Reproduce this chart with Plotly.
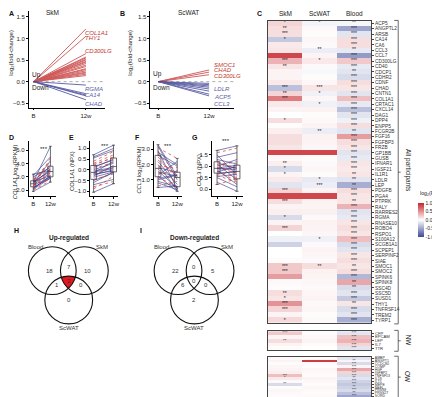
import numpy as np
import plotly.graph_objects as go

W, H = 440, 397
FONT = "Liberation Sans, Arial, sans-serif"
NAVY = "#2e3182"
RED = "#cf3b36"
BLUE_LBL = "#5b5ea6"
RED_LBL = "#c0392b"

# ---------------- data ----------------
time_labels = ["B", "12w"]

# A / B : log2 fold-change at 12 weeks (significant genes)
skm_up = [1.22, 1.05, 0.65, 0.57, 0.55, 0.52, 0.50, 0.47, 0.45, 0.42, 0.38, 0.35, 0.30, 0.28, 0.25, 0.22, 0.20, 0.17, 0.14]
skm_down = [-0.08, -0.28, -0.31, -0.33, -0.42]
skm_label_up = ["COL1A1", "THY1", "CD300LG"]
skm_label_down = ["RGMA", "CA14", "CHAD"]
scwat_up = [0.27, 0.22, 0.16]
scwat_down = [-0.04, -0.07, -0.10, -0.13, -0.17, -0.22, -0.29, -0.33]
scwat_label_up = ["SMOC1", "CHAD", "CD300LG"]
scwat_label_down = ["LDLR", "ACP5", "CCL3"]

# D-G : paired subject values (B, 12w); group: OW (solid navy) / NW (dotted red)
group = ["OW", "NW", "OW", "OW", "NW", "OW", "OW", "NW", "OW", "OW", "NW", "OW", "OW",
         "NW", "OW", "OW", "NW", "OW", "NW", "OW", "OW", "NW", "OW", "OW", "NW", "OW"]
col1a1_rpkm_b = [2.6, 2.3, 2.1, 2.5, 2.9, 2.4, 2.2, 2.0, 2.7, 3.1, 2.45, 2.35, 1.9, 2.8, 2.55, 3.0, 2.25, 2.65, 2.4, 2.15, 2.5, 2.3, 3.2, 2.05, 2.75, 2.6]
col1a1_rpkm_w = [5.3, 4.4, 3.1, 3.6, 4.1, 3.3, 2.9, 2.7, 3.8, 4.5, 3.4, 3.0, 2.6, 3.9, 3.5, 3.7, 3.2, 3.4, 2.8, 3.0, 4.2, 3.3, 3.5, 2.9, 3.6, 3.1]
col1a1_npx_b = [-1.05, -0.9, -0.6, -0.3, -0.2, -0.15, 0.1, 0.3, 0.55, 0.7, -0.45, -0.1, 0.0, 0.2, -0.25, -0.7, 0.4, -0.35, 0.05, -0.5, 0.15, -0.8, 0.6, -0.05, 0.25, -0.2]
col1a1_npx_w = [-0.65, -0.3, -0.1, 0.2, 0.1, 0.4, 0.5, 0.7, 0.9, 1.15, -0.2, 0.05, 0.3, 0.6, 0.0, -0.45, 0.85, -0.1, 0.35, -0.15, 0.45, -0.55, 1.0, 0.1, 0.55, -0.05]
ccl3_rpkm_b = [3.3, 3.1, 2.9, 2.6, 2.3, 2.0, 1.8, 1.7, 1.5, 1.3, 1.2, 1.0, 0.8, 0.6, 0.5, 2.8, 2.5, 1.6, 1.4, 3.2, 2.2, 1.9, 1.1, 0.9, 2.7, 1.25]
ccl3_rpkm_w = [1.2, 2.4, 0.4, 1.9, 1.3, 0.3, 1.5, 0.8, 1.25, 2.2, 0.5, 1.3, 0.35, 0.9, 0.6, 2.0, 1.1, 0.45, 1.6, 1.0, 0.7, 1.8, 1.35, 0.55, 1.45, 0.25]
ccl3_npx_b = [1.7, 1.6, 1.5, 1.3, 1.2, 1.1, 1.0, 0.95, 0.9, 0.85, 0.8, 0.75, 0.7, 0.6, 0.5, 0.3, 0.2, 1.4, 1.05, 0.65, 0.88, 1.25, 0.55, 0.92, 0.78, 1.15]
ccl3_npx_w = [1.9, 1.8, 0.6, 1.1, 0.9, 0.4, 1.3, 0.7, 0.85, 0.2, 0.5, 1.0, 0.75, 0.3, 0.1, -0.1, 0.45, 1.6, 1.2, 0.8, 0.95, 0.55, 0.65, 1.05, 0.35, 0.9]

# C : heatmap of log2(FC)
tissues = ["SkM", "ScWAT", "Blood"]
genes_all = ["ACP5", "ANGPTL2", "ARSB", "CA14", "CA6", "CCL3", "CCL7", "CD300LG", "CD40", "CDCP1",
             "CDHR2", "CDNF", "CHAD", "CNTN1", "COL1A1", "CRTAC1", "CXCL14", "DAG1", "DPP4", "ENPP5",
             "FCGR2B", "FGF16", "FGFBP3", "FRZB", "GP1BB", "GUSB", "IFNAR1", "IGSF21", "IL1R1", "LDLR",
             "LEP", "PDGFB", "PGA4", "PTPRK", "RALY", "RARRES2", "RGMA", "RNASE10", "ROBO4", "RSPO1",
             "S100A12", "SCGB1A1", "SCPEP1", "SERPINF2", "SIAE", "SMOC1", "SMOC2", "SPINK6", "SPINK8", "SSC4D",
             "SSC5D", "SUSD1", "THY1", "TNFRSF14", "TREM2", "TYRP1"]
skm_fc = [0.20, 0.15, 0.15, -0.30, 0.10, 0.12, 0.85, 0.35, 0.12, 0.05,
          0.05, 0.10, -0.35, 0.20, 0.60, 0.10, 0.05, 0.00, 0.15, 0.02,
          0.08, 0.15, 0.15, 0.12, 0.85, 0.03, 0.08, -0.20, 0.05, 0.10,
          -0.15, 0.20, 0.85, 0.15, 0.05, 0.08, -0.20, 0.05, 0.20, 0.00,
          -0.08, -0.25, 0.00, 0.00, 0.02, 0.25, 0.25, 0.45, 0.03, 0.02,
          0.15, 0.12, 0.50, 0.20, 0.05, 0.18]
skm_sig = ["*", "**", "***", "*", "", "", "", "***", "**", "",
           "", "", "***", "**", "***", "", "", "", "*", "",
           "", "", "", "", "", "", "**", "*", "*", "",
           "", "***", "", "***", "", "", "*", "", "***", "",
           "", "", "", "", "", "***", "***", "", "", "",
           "**", "*", "***", "***", "", "*"]
scwat_fc = [-0.06, 0.03, 0.02, 0.04, 0.03, -0.10, 0.05, 0.10, 0.03, -0.04,
            0.02, 0.04, 0.12, -0.08, 0.04, -0.08, 0.06, 0.02, 0.03, 0.05,
            -0.10, 0.06, 0.05, 0.04, 0.85, 0.02, 0.03, 0.04, 0.02, -0.12,
            -0.10, 0.05, 0.85, 0.06, 0.05, 0.07, 0.03, 0.06, 0.05, 0.04,
            -0.08, 0.03, 0.05, 0.04, 0.03, 0.15, 0.06, 0.05, 0.04, 0.03,
            0.04, 0.05, 0.03, 0.04, 0.02, 0.03]
scwat_sig = ["*", "", "", "", "", "**", "", "*", "", "",
             "", "", "***", "*", "", "*", "", "", "", "",
             "**", "", "", "", "", "", "", "", "", "*",
             "***", "", "", "", "", "", "", "", "", "",
             "*", "", "", "", "", "**", "", "", "", "",
             "", "", "", "", "", ""]
blood_fc = [-0.05, -0.50, -0.15, 0.15, 0.15, -0.12, -0.55, 0.25, -0.12, -0.15,
            -0.20, 0.15, 0.12, -0.15, 0.30, -0.12, -0.35, -0.15, -0.08, 0.15,
            -0.15, 0.45, 0.15, 0.12, -0.15, -0.12, 0.12, 0.10, 0.12, -0.15,
            -0.45, 0.15, 0.12, 0.12, 0.35, -0.15, -0.12, 0.12, 0.15, 0.12,
            0.30, -0.20, -0.15, 0.12, 0.15, 0.12, 0.15, -0.40, 0.40, -0.20,
            -0.15, -0.30, 0.12, -0.20, -0.15, -0.45]
blood_sig = ["**", "***", "***", "***", "***", "**", "***", "***", "***", "**",
             "***", "***", "***", "***", "***", "***", "***", "***", "***", "***",
             "**", "***", "***", "***", "***", "***", "***", "***", "**", "**",
             "**", "***", "***", "**", "***", "***", "***", "***", "***", "***",
             "***", "***", "***", "***", "***", "**", "***", "***", "**", "**",
             "***", "***", "**", "***", "***", "***"]

genes_nw = ["CFP", "EPCAM", "LEP", "IL7", "TTR"]
skm_fc_nw = [0.25, 0.05, 0.15, 0.05, 0.02]
skm_sig_nw = ["***", "", "**", "", ""]
scwat_fc_nw = [0.02, 0.03, 0.05, 0.02, 0.00]
scwat_sig_nw = ["", "", "", "", ""]
blood_fc_nw = [-0.15, 0.30, 0.35, 0.20, -0.15]
blood_sig_nw = ["***", "***", "***", "***", "***"]

genes_ow = ["AMBP", "ANGPT1", "CCDC80", "COMP", "HGF", "IGFBP2", "TNFSF13", "IL18", "IL15", "MEPE",
            "NEFL", "PRSS8", "PRSS27", "SORD"]
skm_fc_ow = [0.03, 0.05, 0.02, 0.04, 0.05, 0.08, 0.30, 0.10, 0.03, -0.20, 0.02, 0.04, 0.03, 0.02]
skm_sig_ow = ["", "", "", "", "", "", "***", "*", "", "**", "", "", "", ""]
scwat_fc_ow = [0.02, 0.90, 0.03, 0.02, 0.04, 0.03, 0.02, 0.05, 0.03, 0.02, 0.04, 0.03, 0.02, 0.03]
scwat_sig_ow = [""] * 14
blood_fc_ow = [-0.15, 0.05, -0.20, 0.05, 0.40, 0.20, -0.20, -0.15, -0.25, -0.30, -0.25, -0.20, -0.35, -0.50]
blood_sig_ow = ["***", "**", "***", "***", "***", "***", "***", "**", "***", "***", "**", "***", "**", "***"]

# H / I : Venn counts (Blood only, SkM only, ScWAT only, Blood&SkM, Blood&ScWAT, SkM&ScWAT, all)
venn_sets = ["Blood", "SkM", "ScWAT"]
up_counts = [18, 10, 0, 7, 1, 0, 2]
down_counts = [22, 5, 2, 0, 6, 0, 0]


# ---------------- helpers ----------------
def px(x):
    return x / W


def py(y):
    return 1 - y / H


def fan_xy(vals):
    xs, ys = [], []
    for v in vals:
        xs += [0, 1, None]
        ys += [0, v, None]
    return xs, ys


def pair_xy(b, w, grp, g):
    xs, ys = [], []
    for bi, wi, gi in zip(b, w, grp):
        if gi == g:
            xs += [0, 1, None]
            ys += [bi, wi, None]
    return xs, ys


def ax(**kw):
    d = dict(showline=True, linecolor="black", linewidth=0.8, ticks="outside", ticklen=2,
             tickwidth=0.7, tickcolor="black", showgrid=False, zeroline=False,
             tickfont=dict(size=6, family=FONT, color="#222"))
    d.update(kw)
    return d


fig = go.Figure()
annotations = []
shapes = []


def note(x, y, text, size=6, color="#222", bold=False, angle=0, xanchor="center", yanchor="middle"):
    t = "<b>" + text + "</b>" if bold else text
    annotations.append(dict(x=px(x), y=py(y), xref="paper", yref="paper", text=t, showarrow=False,
                            font=dict(size=size, color=color, family=FONT), textangle=angle,
                            xanchor=xanchor, yanchor=yanchor))


# ---------------- A & B ----------------
for (up, down, xa, ya) in ((skm_up, skm_down, "x", "y"), (scwat_up, scwat_down, "x2", "y2")):
    xs, ys = fan_xy(up)
    fig.add_trace(go.Scatter(x=xs, y=ys, mode="lines", line=dict(color="#c94444", width=0.9),
                             opacity=0.9, xaxis=xa, yaxis=ya, hoverinfo="skip"))
    xs, ys = fan_xy(down)
    fig.add_trace(go.Scatter(x=xs, y=ys, mode="lines", line=dict(color="#464a9a", width=0.9),
                             opacity=0.9, xaxis=xa, yaxis=ya, hoverinfo="skip"))
    shapes.append(dict(type="line", xref=xa, yref=ya, x0=0, x1=1.5, y0=0, y1=0,
                       line=dict(color="#999", width=0.8, dash="dot"), layer="below"))

a_lab_y = [1.13, 1.01, 0.71, -0.16, -0.30, -0.51]
b_lab_y = [0.38, 0.26, 0.135, -0.16, -0.35, -0.51]
for i, g in enumerate(skm_label_up + skm_label_down):
    c = RED_LBL if i < 3 else BLUE_LBL
    annotations.append(dict(x=0.95, y=a_lab_y[i], xref="x", yref="y", text="<i>" + g + "</i>",
                            showarrow=False, xanchor="left", yanchor="middle",
                            font=dict(size=6, color=c, family=FONT)))
for i, g in enumerate(scwat_label_up + scwat_label_down):
    c = RED_LBL if i < 3 else BLUE_LBL
    annotations.append(dict(x=1.06, y=b_lab_y[i], xref="x2", yref="y2", text="<i>" + g + "</i>",
                            showarrow=False, xanchor="left", yanchor="middle",
                            font=dict(size=6, color=c, family=FONT)))

# ---------------- D - G ----------------
paired = [
    (col1a1_rpkm_b, col1a1_rpkm_w, "x3", "y3"),
    (col1a1_npx_b, col1a1_npx_w, "x4", "y4"),
    (ccl3_rpkm_b, ccl3_rpkm_w, "x5", "y5"),
    (ccl3_npx_b, ccl3_npx_w, "x6", "y6"),
]
for b, w, xa, ya in paired:
    xs, ys = pair_xy(b, w, group, "OW")
    fig.add_trace(go.Scatter(x=xs, y=ys, mode="lines", line=dict(color=NAVY, width=0.6),
                             xaxis=xa, yaxis=ya, hoverinfo="skip"))
    xs, ys = pair_xy(b, w, group, "NW")
    fig.add_trace(go.Scatter(x=xs, y=ys, mode="lines", line=dict(color=RED, width=0.7, dash="dot"),
                             xaxis=xa, yaxis=ya, hoverinfo="skip"))
    for pos, vals in ((0, b), (1, w)):
        fig.add_trace(go.Box(x=[pos] * len(vals), y=vals, width=0.3, boxpoints=False,
                             line=dict(color="#444", width=0.8), fillcolor="rgba(255,255,255,0.45)",
                             whiskerwidth=0.5, xaxis=xa, yaxis=ya, hoverinfo="skip"))

# ---------------- C heatmaps ----------------
colorscale = [[0, "#3d4a98"], [0.5, "#ffffff"], [1, "#c6262c"]]
heat_sets = [
    (genes_all, skm_fc, scwat_fc, blood_fc, skm_sig, scwat_sig, blood_sig, "x7", "y7", 4.6),
    (genes_nw, skm_fc_nw, scwat_fc_nw, blood_fc_nw, skm_sig_nw, scwat_sig_nw, blood_sig_nw, "x8", "y8", 4),
    (genes_ow, skm_fc_ow, scwat_fc_ow, blood_fc_ow, skm_sig_ow, scwat_sig_ow, blood_sig_ow, "x9", "y9", 3.3),
]
for genes, a, b, c, sa, sb, sc, xa, ya, fs in heat_sets:
    z = [[p, q, r] for p, q, r in zip(a, b, c)]
    fig.add_trace(go.Heatmap(z=z, x=[0, 1, 2], y=list(range(len(genes))),
                             coloraxis="coloraxis", xaxis=xa, yaxis=ya, hoverinfo="skip"))
    sx, sy, st = [], [], []
    for col, sig in enumerate((sa, sb, sc)):
        for row, s in enumerate(sig):
            if s:
                sx.append(col)
                sy.append(row)
                st.append(s)
    fig.add_trace(go.Scatter(x=sx, y=sy, text=st, mode="text", textposition="middle center",
                             textfont=dict(size=fs + 0.4, color="#222", family=FONT),
                             xaxis=xa, yaxis=ya, hoverinfo="skip"))

# ---------------- layout axes ----------------
lay = {}
yA = dict(domain=[py(99), py(2)], range=[-0.599, 1.636], tickvals=[-0.5, 0, 0.5, 1, 1.5], tickformat=".1f")
lay["xaxis"] = ax(domain=[px(21), px(97)], range=[-0.09, 1.357], tickvals=[0, 1], ticktext=time_labels, anchor="y")
lay["yaxis"] = ax(anchor="x", **yA)
lay["xaxis2"] = ax(domain=[px(143), px(227)], range=[-0.157, 1.49], tickvals=[0, 1], ticktext=time_labels, anchor="y2")
lay["yaxis2"] = ax(anchor="x2", **yA)

lay["xaxis3"] = ax(domain=[px(20.7), px(48.3)], range=[-0.27, 1.33], tickvals=[0, 1], ticktext=time_labels, anchor="y3")
lay["yaxis3"] = ax(domain=[py(188), py(133)], range=[1.55, 5.675], tickvals=[2, 3, 4, 5], tickformat=".1f", anchor="x3")
lay["xaxis4"] = ax(domain=[px(82.7), px(110)], range=[-0.165, 1.2], tickvals=[0, 1], ticktext=time_labels, anchor="y4")
lay["yaxis4"] = ax(domain=[py(188), py(133)], range=[-1.23, 1.33], tickvals=[-1, -0.5, 0, 0.5, 1], tickformat=".1f", anchor="x4")
lay["xaxis5"] = ax(domain=[px(146.7), px(175)], range=[-0.207, 1.26], tickvals=[0, 1], ticktext=time_labels, anchor="y5")
lay["yaxis5"] = ax(domain=[py(188), py(133)], range=[-0.06, 3.52], tickvals=[1, 2, 3], tickformat=".1f", anchor="x5")
lay["xaxis6"] = ax(domain=[px(205), px(236)], range=[-0.25, 1.3], tickvals=[0, 1], ticktext=time_labels, anchor="y6")
lay["yaxis6"] = ax(domain=[py(188), py(133)], range=[-0.31, 2.1], tickvals=[0, 0.5, 1, 1.5], tickformat=".1f", anchor="x6")

heat_dom = [(11.6, 315.6, 56), (323.8, 343.0, 5), (349.4, 390.5, 14)]
for k, (top, bot, n) in enumerate(heat_dom):
    i = 7 + k
    genes = heat_sets[k][0]
    lay["xaxis%d" % i] = dict(domain=[px(260.7), px(365)], range=[-0.5, 2.5], showticklabels=False,
                              showline=True, mirror=True, linecolor="#444", linewidth=0.6, ticks="",
                              showgrid=False, zeroline=False, anchor="y%d" % i)
    lay["yaxis%d" % i] = dict(domain=[py(bot), py(top)], range=[n - 0.5, -0.5], side="right",
                              tickvals=list(range(n)), ticktext=genes, ticks="outside", ticklen=2,
                              tickwidth=0.5, tickcolor="#444",
                              tickfont=dict(size=heat_sets[k][9] + 0.2, family=FONT, color="#333"),
                              showline=True, mirror=True, linecolor="#444", linewidth=0.6,
                              showgrid=False, zeroline=False, anchor="x%d" % i)

# ---------------- text annotations ----------------
for lbl, x, y in (("A", 4, 5), ("B", 115, 5), ("C", 253, 5), ("D", 4, 129), ("E", 64, 129),
                  ("F", 130, 129), ("G", 188, 129), ("H", 9, 223), ("I", 134, 223)):
    note(x, y, lbl, size=7, bold=True, color="#111")

note(45, 4, "SkM", size=6.5)
note(181, 4, "ScWAT", size=6.5)
note(4, 44, "log<sub>2</sub>(fold-change)", size=6, angle=-90)
note(123.5, 44, "log<sub>2</sub>(fold-change)", size=6, angle=-90)
for x, y, t in ((22, 66.5, "Up"), (22, 79, "Down"), (144, 65, "Up"), (144, 79, "Down")):
    note(x, y, t, size=6.5, xanchor="left")

note(7, 163, "<i>COL1A1</i> log<sub>2</sub>(RPKM)", size=5.8, angle=-90)
note(64, 163, "COL1A1 (NPX)", size=5.8, angle=-90)
note(132, 162, "<i>CCL3</i> log<sub>2</sub>(RPKM)", size=5.8, angle=-90)
note(192, 162, "CCL3 (NPX)", size=5.8, angle=-90)
for x, y in ((36, 141), (97, 138), (161, 138), (219, 133)):
    note(x, y, "***", size=6)

for t, x in zip(tissues, (278.3, 313.2, 348)):
    note(x, 5, t, size=6.5)

# colorbar title
note(424, 185, "log<sub>2</sub>(FC)", size=5.2)

# brackets and group labels
for (top, bot, lbl) in ((11.5, 316.5, "All participants"), (323, 344, "NW"), (349, 391, "OW")):
    x0, x1 = 388, 392
    ym = (top + bot) / 2
    path = "M %f,%f L %f,%f L %f,%f L %f,%f M %f,%f L %f,%f" % (
        px(x0), py(top), px(x1), py(top), px(x1), py(bot), px(x0), py(bot),
        px(x1), py(ym), px(x1 + 2.5), py(ym))
    shapes.append(dict(type="path", xref="paper", yref="paper", path=path,
                       line=dict(color="#444", width=0.8)))
    note(402, ym if lbl != "All participants" else 162, lbl, size=6.5, angle=90)

# ---------------- Venn diagrams ----------------
R = 24.0
base = [(44.5, 263.0), (76.7, 263.0), (61.0, 292.5)]
region_pos = [(42, 263), (80, 263), (61, 292), (61, 259), (49, 277.5), (73, 277.5), (61, 273)]
set_lab_pos = [(28, 239), (94, 239), (61, 321)]


def triple_region(centers, r, n=90):
    cs = np.array(centers, dtype=float)
    p = cs.mean(axis=0)
    pts = []
    for th in np.linspace(0, 2 * np.pi, n, endpoint=False):
        d = np.array([np.cos(th), np.sin(th)])
        ts = []
        for c in cs:
            v = p - c
            bb = d @ v
            cc = v @ v - r * r
            ts.append(-bb + np.sqrt(bb * bb - cc))
        pts.append(p + min(ts) * d)
    return pts


for shift, counts, title in ((0.0, up_counts, "Up-regulated"), (126.3, down_counts, "Down-regulated")):
    centers = [(cx + shift, cy) for cx, cy in base]
    if counts[6] > 0:
        pts = triple_region(centers, R)
        path = "M " + " L ".join("%f,%f" % (px(x), py(y)) for x, y in pts) + " Z"
        shapes.append(dict(type="path", xref="paper", yref="paper", path=path,
                           fillcolor="#e3171d", line=dict(width=0)))
    for cx, cy in centers:
        shapes.append(dict(type="circle", xref="paper", yref="paper",
                           x0=px(cx - R), x1=px(cx + R), y0=py(cy + R), y1=py(cy - R),
                           line=dict(color="#111", width=1.1)))
    for (x, y), v in zip(region_pos, counts):
        note(x + shift, y, str(v), size=6, color="#333")
    for (x, y), s in zip(set_lab_pos, venn_sets):
        note(x + shift, y, s, size=6, color="#333")
    note(61 + shift, 230.5, title, size=6.5, bold=True)

fig.update_layout(
    width=W, height=H, margin=dict(l=0, r=0, t=0, b=0),
    paper_bgcolor="white", plot_bgcolor="white", showlegend=False,
    font=dict(family=FONT, size=6, color="#222"),
    coloraxis=dict(colorscale=colorscale, cmin=-1, cmax=1,
                   colorbar=dict(x=px(412), xanchor="left", y=py(212), yanchor="middle",
                                 len=34, lenmode="pixels", thickness=6, outlinewidth=0,
                                 tickvals=[-1, -0.5, 0, 0.5, 1],
                                 ticktext=["-1.0", "-0.5", "0.0", "0.5", "1.0"],
                                 tickfont=dict(size=5, family=FONT), ticks="", xpad=0, ypad=0)),
    annotations=annotations, shapes=shapes, **lay)

fig.write_html("out.html")
